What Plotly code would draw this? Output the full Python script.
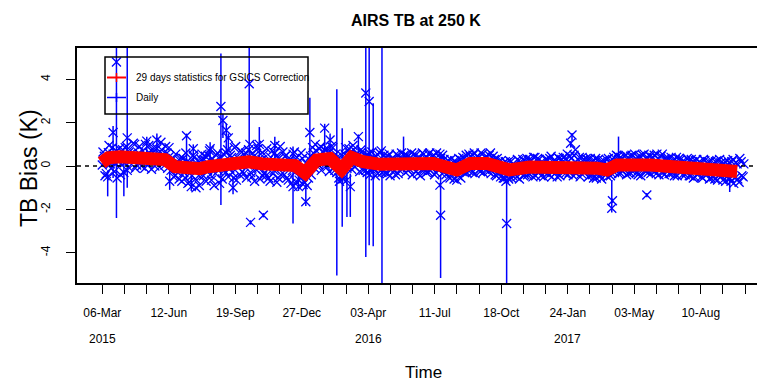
import pandas as pd
import plotly.graph_objects as go

# ---------------- data ----------------
# 29-day statistics for GSICS correction (red band)
red_dates = ["2015-03-05", "2015-03-15", "2015-04-01", "2015-05-01", "2015-05-28", "2015-06-07",
             "2015-06-22", "2015-07-12", "2015-07-29", "2015-08-10", "2015-09-09", "2015-10-09",
             "2015-10-29", "2015-11-25", "2015-12-17", "2016-01-01", "2016-01-18", "2016-02-07",
             "2016-02-24", "2016-03-10", "2016-03-27", "2016-04-21", "2016-05-21", "2016-07-09",
             "2016-08-13", "2016-09-02", "2016-09-27", "2016-10-30", "2016-11-29", "2017-01-13",
             "2017-02-16", "2017-03-09", "2017-03-24", "2017-04-08", "2017-05-27", "2017-07-06",
             "2017-08-09", "2017-09-03", "2017-10-03"]
red_values = [0.15, 0.38, 0.43, 0.43, 0.42, 0.30, -0.03, -0.15, -0.12, -0.03, 0.12, 0.20,
              0.10, 0.05, 0.02, -0.32, 0.28, 0.35, -0.15, 0.40, 0.20, 0.08, 0.05, 0.12,
              -0.18, 0.12, 0.12, -0.18, -0.05, -0.03, 0.00, -0.10, -0.18, 0.05, 0.05, -0.05,
              -0.12, -0.20, -0.25]

# Daily TB bias, sampled every third day (two interleaved sets)
daily_start_a = "2015-03-06"
daily_values_a = [
    0.05, 0.45, -0.35, 0.62, 0.10, 0.85, -0.25, 0.70, 0.20, -0.40,
    0.75, 0.15, 0.90, -0.05, 0.55, 0.30, 1.00, 0.05, 0.60, 0.25,
    0.70, -0.10, 0.50, 0.95, 0.20, 0.65, 0.00, 0.80, 0.35, 1.10,
    0.55, 0.05, 0.60, 0.85, -0.20, 0.35, -0.45, 0.20, -0.60, 0.40,
    0.35, -0.55, 0.20, -0.75, -0.10, 0.50, -0.60, 0.10, -0.90, 0.30,
    -0.45, 0.45, -0.20, 0.70, -0.65, 0.15, -0.35, 0.60, -0.80, 0.05,
    0.55, -0.30, 0.75, -0.10, 0.40, -0.55, 0.90, 0.20, -0.40, 0.65,
    -0.35, 0.60, 0.05, 1.00, -0.50, 0.45, -0.15, 0.80, -0.60, 0.30,
    0.55, -0.45, 0.25, -0.70, 0.70, -0.20, 0.45, -0.55, 0.90, 0.00,
    -0.40, 0.50, -0.65, 0.30, -0.20, 0.65, -0.75, 0.20, -0.50, 0.35,
    -0.75, 0.10, -0.55, 0.45, 0.85, -0.10, 0.70, 0.05, 0.90, 0.30,
    0.75, -0.05, 0.60, 0.20, 0.85, -0.20, 0.40, -0.55, 0.15, -0.60,
    0.55, -0.10, 0.80, 0.15, 0.95, -0.05, 0.60, 0.25, 0.75, -0.20,
    0.45, -0.30, 0.60, -0.15, 0.35, -0.45, 0.55, 0.00, 0.70, -0.25,
    0.40, -0.35, 0.55, -0.10, 0.30, -0.40, 0.50, -0.20, 0.60, 0.05,
    -0.30, 0.45, -0.15, 0.60, 0.00, 0.50, -0.35, 0.40, -0.20, 0.55,
    0.35, -0.25, 0.60, -0.10, 0.50, -0.30, 0.20, 0.55, -0.35, 0.30,
    -0.40, 0.25, -0.55, 0.10, -0.60, 0.15, -0.45, 0.30, -0.25, 0.35,
    0.50, -0.20, 0.45, -0.30, 0.60, 0.00, 0.40, -0.25, 0.55, -0.10,
    0.45, -0.25, 0.60, -0.15, 0.30, -0.45, 0.20, -0.50, 0.10, -0.55,
    0.15, -0.60, 0.20, -0.45, 0.05, -0.50, 0.25, -0.35, 0.30, -0.40,
    0.35, -0.35, 0.25, -0.50, 0.40, -0.20, 0.30, -0.45, 0.15, -0.30,
    0.30, -0.40, 0.45, -0.25, 0.20, -0.50, 0.35, -0.15, 0.40, -0.35,
    0.55, -0.30, 0.35, -0.45, 0.75, -0.20, 0.40, -0.35, 0.30, -0.25,
    0.30, -0.45, 0.20, -0.55, 0.35, -0.30, 0.15, -0.60, 0.25, -0.40,
    -0.50, 0.20, -0.35, 0.40, -0.20, 0.45, -0.30, 0.35, -0.15, 0.50,
    0.40, -0.30, 0.50, -0.20, 0.35, -0.40, 0.45, -0.10, 0.55, -0.25,
    -0.30, 0.45, -0.20, 0.50, -0.35, 0.35, -0.15, 0.55, -0.40, 0.30,
    0.35, -0.35, 0.25, -0.45, 0.40, -0.20, 0.30, -0.40, 0.20, -0.30,
    0.25, -0.45, 0.20, -0.50, 0.30, -0.35, 0.15, -0.55, 0.25, -0.40,
    0.20, -0.55, 0.10, -0.60, 0.25, -0.45, 0.15, -0.65, 0.20, -0.50,
    0.15, -0.70, 0.30, -0.55, 0.10, -0.75, 0.20, -0.50,
]
daily_start_b = "2015-03-07"
daily_values_b = [
    0.65, -0.45, 0.30, 0.95, -0.10, 0.55, 0.15, -0.55, 0.80, 0.40,
    0.20, 0.85, -0.20, 0.65, 0.35, 1.05, -0.10, 0.50, 0.90, 0.00,
    0.40, 1.00, 0.10, 0.60, -0.15, 0.85, 0.30, 0.55, -0.05, 0.75,
    0.20, 0.90, -0.10, 0.45, 0.10, -0.50, 0.55, -0.30, 0.25, -0.70,
    -0.30, 0.60, -0.80, 0.15, -0.45, 0.40, -1.00, 0.25, -0.50, 0.55,
    0.30, -0.70, 0.50, -0.40, 0.35, -0.90, 0.50, -0.20, 0.40, -0.60,
    -0.20, 0.60, -0.50, 0.50, -0.30, 0.85, -0.65, 0.35, 0.70, -0.25,
    0.50, -0.55, 0.75, -0.30, 0.60, -0.70, 0.95, -0.10, 0.55, -0.45,
    -0.30, 0.80, -0.55, 0.40, -0.35, 0.60, -0.75, 0.35, -0.40, 0.65,
    0.45, -0.55, 0.25, -0.80, 0.55, -0.30, 0.40, -0.65, 0.60, -0.85,
    -0.10, -0.90, 0.30, -0.40, 0.60, 1.00, 0.10, 0.80, -0.20, 0.65,
    0.10, 0.80, -0.25, 0.90, -0.10, 0.55, 0.30, -0.70, 0.50, -0.40,
    0.85, 0.00, 0.60, -0.15, 0.75, 0.20, 0.50, -0.25, 0.65, 0.35,
    -0.20, 0.50, -0.40, 0.65, -0.10, 0.45, -0.35, 0.60, -0.30, 0.50,
    -0.30, 0.45, -0.45, 0.35, -0.20, 0.55, -0.35, 0.40, -0.10, 0.50,
    0.50, -0.20, 0.40, -0.40, 0.55, -0.25, 0.35, -0.45, 0.60, -0.15,
    -0.30, 0.55, -0.20, 0.45, -0.40, 0.60, -0.15, 0.35, 0.50, -0.25,
    0.20, -0.50, 0.30, -0.35, 0.25, -0.65, 0.35, -0.55, 0.40, -0.30,
    -0.30, 0.55, -0.15, 0.50, -0.35, 0.45, -0.20, 0.60, -0.30, 0.40,
    -0.20, 0.50, -0.35, 0.45, -0.40, 0.35, -0.30, 0.25, -0.55, 0.20,
    -0.50, 0.25, -0.55, 0.10, -0.40, 0.30, -0.60, 0.15, -0.45, 0.20,
    -0.40, 0.30, -0.30, 0.40, -0.45, 0.35, -0.25, 0.20, -0.50, 0.30,
    -0.35, 0.35, -0.50, 0.25, -0.30, 0.40, -0.45, 0.30, -0.20, 0.35,
    -0.40, 0.45, -0.20, 0.50, -0.35, 0.30, -0.50, 0.40, -0.30, 0.35,
    -0.50, 0.35, -0.40, 0.25, -0.55, 0.30, -0.45, 0.20, -0.35, 0.30,
    0.35, -0.45, 0.30, -0.30, 0.50, -0.35, 0.40, -0.25, 0.45, -0.40,
    -0.35, 0.45, -0.25, 0.55, -0.30, 0.40, -0.45, 0.50, -0.20, 0.35,
    0.50, -0.35, 0.40, -0.25, 0.55, -0.40, 0.45, -0.30, 0.35, -0.20,
    -0.35, 0.40, -0.30, 0.30, -0.45, 0.35, -0.25, 0.25, -0.40, 0.35,
    -0.45, 0.30, -0.55, 0.25, -0.40, 0.20, -0.50, 0.30, -0.35, 0.15,
    -0.60, 0.25, -0.50, 0.20, -0.65, 0.30, -0.45, 0.10, -0.70, 0.25,
    -0.55, 0.20, -0.80, 0.15, -0.60, 0.35, -0.45, 0.10,
]

# Daily points with large spread (value, upper and lower error bar lengths)
event_dates = ["2015-03-14", "2015-03-22", "2015-03-27", "2015-04-07", "2015-04-12", "2015-05-11",
               "2015-05-26", "2015-06-14", "2015-07-09", "2015-07-16", "2015-07-19", "2015-08-13",
               "2015-08-29", "2015-09-01", "2015-09-06", "2015-09-09", "2015-09-16", "2015-10-10",
               "2015-10-12", "2015-10-25", "2015-10-31", "2015-11-17", "2015-12-14", "2015-12-22",
               "2016-01-02", "2016-01-08", "2016-01-30", "2016-02-07", "2016-02-17", "2016-02-25",
               "2016-03-03", "2016-03-08", "2016-03-20", "2016-03-31", "2016-04-05", "2016-04-11",
               "2016-04-24", "2016-05-26", "2016-07-19", "2016-07-20", "2016-10-25", "2016-10-26",
               "2017-01-29", "2017-01-31", "2017-03-31", "2017-04-01", "2017-04-10", "2017-05-22",
               "2017-09-22"]
event_values = [-0.50, 1.55, 4.80, -0.30, 1.30, 1.15,
                1.20, -0.70, 1.40, -0.95, 0.80, 0.80,
                2.75, 2.10, 1.65, 1.30, -1.00, 3.80,
                -2.60, 1.00, -2.27, 0.95, -0.95, -0.95,
                -1.65, 1.55, 1.75, 1.20, -0.30, -0.50,
                -0.65, -0.95, 1.36, 3.37, 2.98, -0.10,
                0.10, 0.30, -0.88, -2.27, -0.70, -2.65,
                1.05, 1.43, -1.95, -1.60, 0.30, -1.34,
                -0.60]
event_err_up = [0.30, 0.30, 3.00, 0.50, 5.00, 0.20,
                0.30, 0.60, 0.10, 0.50, 0.20, 0.30,
                2.45, 0.30, 0.30, 0.20, 0.50, 2.50,
                0.10, 0.80, 0.10, 0.40, 1.85, 0.60,
                0.80, 1.60, 0.20, 0.30, 3.85, 2.25,
                0.40, 0.60, 0.10, 2.50, 3.00, 3.00,
                8.00, 1.06, 0.10, 1.80, 0.10, 2.00,
                0.10, 0.10, 1.30, 0.10, 1.06, 0.10,
                0.30]
event_err_down = [0.90, 2.10, 7.20, 1.10, 2.30, 0.80,
                  0.90, 0.40, 2.05, 0.20, 0.60, 0.90,
                  4.55, 0.80, 1.00, 0.60, 0.30, 3.60,
                  0.10, 0.70, 0.10, 0.80, 1.70, 0.20,
                  0.20, 1.90, 1.00, 0.60, 4.75, 2.30,
                  1.70, 1.40, 1.20, 7.57, 6.64, 3.60,
                  8.00, 0.60, 0.10, 2.90, 0.10, 3.00,
                  0.20, 0.30, 0.20, 0.10, 0.30, 0.10,
                  0.60]

# axis labels
tick_labels = ["06-Mar", "12-Jun", "19-Sep", "27-Dec", "03-Apr", "11-Jul",
               "18-Oct", "24-Jan", "03-May", "10-Aug"]
year_labels = {"06-Mar": "2015", "03-Apr": "2016", "24-Jan": "2017"}
y_ticks = [-4, -2, 0, 2, 4]

# ---------------- layout geometry ----------------
W, H = 757, 383
L, R, T, B = 77, 0, 48, 100
PW, PH = W - L - R, H - T - B

def px_x(px):
    return (px - L) / PW

def px_y(py):
    return (H - B - py) / PH

FONT = "Liberation Sans, Arial, sans-serif"

x_range = ["2015-01-27 11:00", "2017-11-01 12:00"]
y_range = [-5.40, 5.45]

# tick positions: labels every 888/9 days, minor ticks between (3 per interval)
t0 = pd.Timestamp("2015-03-06")
step = pd.Timedelta(days=888 / 27)
tick_vals = [t0 + k * step for k in range(30)]
tick_text = [tick_labels[k // 3] if k % 3 == 0 else "" for k in range(30)]

dates_a = pd.date_range(daily_start_a, periods=len(daily_values_a), freq="3D")
dates_b = pd.date_range(daily_start_b, periods=len(daily_values_b), freq="3D")

fig = go.Figure()

blue_marker = dict(symbol="x-thin-open", size=9, color="#0000FF", line=dict(width=1.3, color="#0000FF"))

for dts, vals in ((dates_a, daily_values_a), (dates_b, daily_values_b)):
    fig.add_trace(go.Scatter(
        x=dts, y=vals, mode="markers", marker=blue_marker,
        showlegend=False, hoverinfo="skip"))

fig.add_trace(go.Scatter(
    x=pd.to_datetime(event_dates), y=event_values, mode="markers", marker=blue_marker,
    error_y=dict(type="data", symmetric=False, array=event_err_up, arrayminus=event_err_down,
                 color="#0000FF", thickness=1.5, width=0),
    showlegend=False, hoverinfo="skip"))

# zero reference line (dashed)
fig.add_trace(go.Scatter(
    x=x_range, y=[0, 0], mode="lines",
    line=dict(color="black", width=1.5, dash="4px,4px"),
    showlegend=False, hoverinfo="skip"))

fig.add_trace(go.Scatter(
    x=pd.to_datetime(red_dates), y=red_values, mode="lines",
    line=dict(color="#FF0000", width=13),
    showlegend=False, hoverinfo="skip"))

fig.update_xaxes(
    type="date", range=x_range, showgrid=False, zeroline=False,
    showline=True, linecolor="black", linewidth=1.5, mirror=True,
    ticks="outside", ticklen=9, tickwidth=1, tickcolor="black",
    tickmode="array", tickvals=tick_vals, ticktext=tick_text,
    tickfont=dict(family=FONT, size=12, color="black"),
    ticklabelstandoff=9,
)
fig.update_yaxes(
    range=y_range, showgrid=False, zeroline=False,
    showline=True, linecolor="black", linewidth=1.5, mirror=False,
    ticks="outside", ticklen=9, tickwidth=1, tickcolor="black",
    tickmode="array", tickvals=y_ticks, ticktext=[str(v) for v in y_ticks],
    tickangle=-90, tickfont=dict(family=FONT, size=12, color="black"),
    ticklabelstandoff=11,
)

annotations = []
# year labels
for k in range(0, 30, 3):
    lab = tick_labels[k // 3]
    if lab in year_labels:
        annotations.append(dict(x=tick_vals[k], xref="x", y=px_y(339), yref="paper",
                                text=year_labels[lab], showarrow=False,
                                font=dict(family=FONT, size=12, color="black"),
                                xanchor="center", yanchor="middle"))
annotations.append(dict(x=px_x(423), xref="paper", y=px_y(372), yref="paper", text="Time",
                        showarrow=False, font=dict(family=FONT, size=17, color="black"),
                        xanchor="center", yanchor="middle"))
annotations.append(dict(x=px_x(29), xref="paper", y=px_y(168), yref="paper", text="TB Bias (K)",
                        textangle=-90, showarrow=False,
                        font=dict(family=FONT, size=23, color="black"),
                        xanchor="center", yanchor="middle"))
annotations.append(dict(x=px_x(416), xref="paper", y=px_y(21), yref="paper",
                        text="<b>AIRS TB at 250 K</b>", showarrow=False,
                        font=dict(family=FONT, size=16, color="black"),
                        xanchor="center", yanchor="middle"))
# legend texts
annotations.append(dict(x=px_x(134), xref="paper", y=px_y(77.5), yref="paper",
                        text="29 days statistics for GSICS Correction", showarrow=False,
                        font=dict(family=FONT, size=10, color="black"),
                        xanchor="left", yanchor="middle"))
annotations.append(dict(x=px_x(134), xref="paper", y=px_y(97.5), yref="paper",
                        text="Daily", showarrow=False,
                        font=dict(family=FONT, size=10, color="black"),
                        xanchor="left", yanchor="middle"))

shapes = [
    dict(type="rect", xref="paper", yref="paper", x0=px_x(105), x1=px_x(308),
         y0=px_y(57), y1=px_y(114), line=dict(color="black", width=1.5), fillcolor="rgba(0,0,0,0)"),
    dict(type="line", xref="paper", yref="paper", x0=px_x(107), x1=px_x(126),
         y0=px_y(77.5), y1=px_y(77.5), line=dict(color="#FF0000", width=2)),
    dict(type="line", xref="paper", yref="paper", x0=px_x(116.5), x1=px_x(116.5),
         y0=px_y(73), y1=px_y(82), line=dict(color="#FF0000", width=1.5)),
    dict(type="line", xref="paper", yref="paper", x0=px_x(107), x1=px_x(126),
         y0=px_y(97.5), y1=px_y(97.5), line=dict(color="#0000FF", width=1.5)),
    dict(type="line", xref="paper", yref="paper", x0=px_x(116.5), x1=px_x(116.5),
         y0=px_y(93), y1=px_y(102), line=dict(color="#0000FF", width=1.5)),
]

fig.update_layout(
    width=W, height=H, margin=dict(l=L, r=R, t=T, b=B),
    paper_bgcolor="white", plot_bgcolor="white",
    showlegend=False, annotations=annotations, shapes=shapes,
    font=dict(family=FONT, color="black"),
)

fig.write_html("out.html", config={"displayModeBar": False},
               post_script="document.body.style.margin='0';document.body.style.overflow='hidden';")
